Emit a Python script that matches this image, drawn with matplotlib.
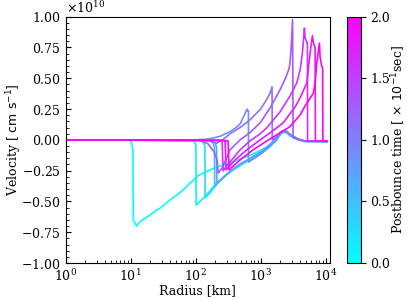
import matplotlib
matplotlib.use("Agg")
import matplotlib.pyplot as plt
import numpy as np
from matplotlib import cm, colors
from matplotlib.ticker import ScalarFormatter

plt.rcParams['font.family'] = ['DejaVu Serif']
plt.rcParams['mathtext.fontset'] = 'dejavusans'
plt.rcParams['font.size'] = 9

# Postbounce times (x 0.1 s) of each profile
times = [0.0, 0.1, 0.25, 0.5, 0.7, 0.9, 1.1, 1.3, 1.6, 1.8, 2.0]

# Radius [km] and velocity [1e10 cm/s] of each profile
r_00 = [1, 9.2, 10.2, 10.9, 11.0, 12.4, 14.0, 20.0, 25.3, 28.4, 40.5, 57.8, 82.3, 110, 200, 339, 689, 1245, 1730, 2000, 2200, 2500, 2850, 3300, 3800, 4800, 10430]
v_00 = [0, 0, -0.01, -0.08, -0.65, -0.70, -0.664, -0.61, -0.569, -0.555, -0.488, -0.428, -0.352, -0.29, -0.225, -0.187, -0.125, -0.06, -0.01, 0.04, 0.06, 0.06, 0.03, 0.015, 0.0, -0.012, -0.012]

r_01 = [1, 85, 95, 101, 102, 117, 140, 212, 339, 600, 822, 1000, 1400, 1730, 2000, 2200, 2500, 2850, 3300, 3800, 4800, 10430]
v_01 = [0, -0.005, -0.015, -0.04, -0.53, -0.50, -0.46, -0.35, -0.26, -0.18, -0.145, -0.115, -0.055, -0.005, 0.045, 0.065, 0.06, 0.035, 0.02, 0.0, -0.012, -0.012]

r_02 = [1, 115, 130, 139, 140.5, 167, 212, 300, 450, 650, 822, 1000, 1400, 1730, 2000, 2200, 2500, 2850, 3300, 3800, 4800, 10430]
v_02 = [0, -0.005, -0.02, -0.05, -0.47, -0.43, -0.36, -0.28, -0.21, -0.16, -0.135, -0.105, -0.045, 0.005, 0.055, 0.07, 0.07, 0.04, 0.025, 0.005, -0.01, -0.012]

r_05 = [1, 160, 185, 195, 196.5, 240, 340, 484, 689, 983, 1400, 1730, 2000, 2200, 2500, 2850, 3300, 3800, 4800, 10430]
v_05 = [0, -0.005, -0.025, -0.06, -0.38, -0.33, -0.26, -0.20, -0.155, -0.105, -0.04, 0.01, 0.055, 0.075, 0.07, 0.045, 0.025, 0.005, -0.01, -0.012]

r_07 = [1, 170, 200, 210, 212.5, 260, 340, 484, 689, 983, 1400, 1730, 2000, 2200, 2500, 2850, 3300, 3800, 4800, 10430]
v_07 = [0, -0.005, -0.025, -0.06, -0.35, -0.31, -0.255, -0.195, -0.15, -0.10, -0.035, 0.015, 0.06, 0.075, 0.07, 0.04, 0.02, 0.005, -0.01, -0.012]

r_09 = [1, 100, 140, 185, 240, 339, 420, 484, 538, 578, 600, 620, 635, 650, 651, 822, 1000, 1400, 1730, 2000, 2200, 2500, 2850, 3300, 3800, 4800, 10430]
v_09 = [0, 0, 0.004, 0.015, 0.03, 0.067, 0.10, 0.13, 0.18, 0.215, 0.235, 0.25, 0.235, 0.235, -0.18, -0.145, -0.115, -0.05, 0.0, 0.05, 0.07, 0.065, 0.04, 0.02, 0.005, -0.012, -0.012]

r_11 = [1, 130, 170, 212, 260, 339, 484, 689, 1000, 1245, 1400, 1500, 1510, 1731, 2000, 2200, 2500, 2850, 3300, 3800, 4800, 10430]
v_11 = [0, 0, -0.01, -0.027, 0.0, 0.05, 0.10, 0.163, 0.25, 0.33, 0.38, 0.43, 0.0, 0.02, 0.05, 0.07, 0.065, 0.04, 0.02, 0.005, -0.012, -0.012]

r_13 = [1, 117, 156, 193, 214, 222, 256, 339, 484, 689, 983, 1400, 1995, 2467, 2698, 2794, 2917, 3100, 3160, 4055, 5012, 10430]
v_13 = [0, -0.004, -0.033, -0.098, -0.163, -0.27, -0.228, -0.081, 0.0, 0.06, 0.138, 0.26, 0.407, 0.512, 0.569, 0.602, 0.707, 0.976, 0.016, 0.0, -0.012, -0.012]

r_16 = [1, 200, 256, 265, 339, 484, 689, 983, 1245, 1995, 2844, 3606, 4055, 4395, 4718, 4838, 5140, 5250, 5270, 10430]
v_16 = [0, -0.004, -0.008, -0.252, -0.179, -0.081, -0.008, 0.049, 0.098, 0.228, 0.358, 0.463, 0.569, 0.707, 0.907, 0.829, 0.789, 0.789, -0.008, -0.012]

r_18 = [1, 238, 284, 295, 405, 613, 983, 1400, 2218, 3395, 4055, 5140, 5777, 6266, 6535, 6890, 6960, 10430]
v_18 = [0, -0.004, -0.008, -0.244, -0.163, -0.081, 0.0, 0.057, 0.138, 0.268, 0.341, 0.463, 0.707, 0.846, 0.780, 0.748, -0.008, -0.012]

r_20 = [1, 265, 316, 327, 484, 767, 1400, 2844, 4055, 4838, 6491, 6890, 7320, 8031, 8222, 8740, 8990, 9060, 10430]
v_20 = [0, -0.004, -0.008, -0.244, -0.163, -0.081, 0.008, 0.108, 0.203, 0.276, 0.38, 0.463, 0.626, 0.786, 0.667, 0.596, 0.585, -0.008, -0.012]

radii = [r_00, r_01, r_02, r_05, r_07, r_09, r_11, r_13, r_16, r_18, r_20]
vels = [v_00, v_01, v_02, v_05, v_07, v_09, v_11, v_13, v_16, v_18, v_20]

fig = plt.figure(figsize=(4.07, 3.0), dpi=100)
ax = fig.add_axes([0.161, 0.1233, 0.650, 0.821])
cax = fig.add_axes([0.852, 0.1233, 0.0344, 0.821])

cmap = matplotlib.colormaps['cool']
norm = colors.Normalize(vmin=0.0, vmax=2.0)

for t, r, v in zip(times, radii, vels):
    ax.plot(r, np.array(v) * 1e10, color=cmap(norm(t)), lw=1.2)

ax.set_xscale('log')
ax.set_xlim(1, 1.17e4)
ax.set_ylim(-1e10, 1e10)
ax.set_yticks(np.arange(-1.0, 1.01, 0.25) * 1e10)
fmt = ScalarFormatter(useMathText=True)
fmt.set_powerlimits((0, 0))
ax.yaxis.set_major_formatter(fmt)
ax.minorticks_on()
ax.tick_params(which='both', direction='in')
ax.set_xlabel('Radius [km]')
ax.set_ylabel('Velocity [ $\\mathrm{cm\\ s^{-1}}$]')
ax.xaxis.set_label_coords(0.5, -0.084)
ax.yaxis.set_label_coords(-0.158, 0.5)

sm = cm.ScalarMappable(norm=norm, cmap=cmap)
cb = fig.colorbar(sm, cax=cax)
cb.set_ticks([0.0, 0.5, 1.0, 1.5, 2.0])
cb.set_label('Postbounce time [ $\\times\\ 10^{-1}$sec]')
cb.ax.yaxis.set_label_coords(3.05, 0.5)

fig.savefig('out.png', dpi=100)
